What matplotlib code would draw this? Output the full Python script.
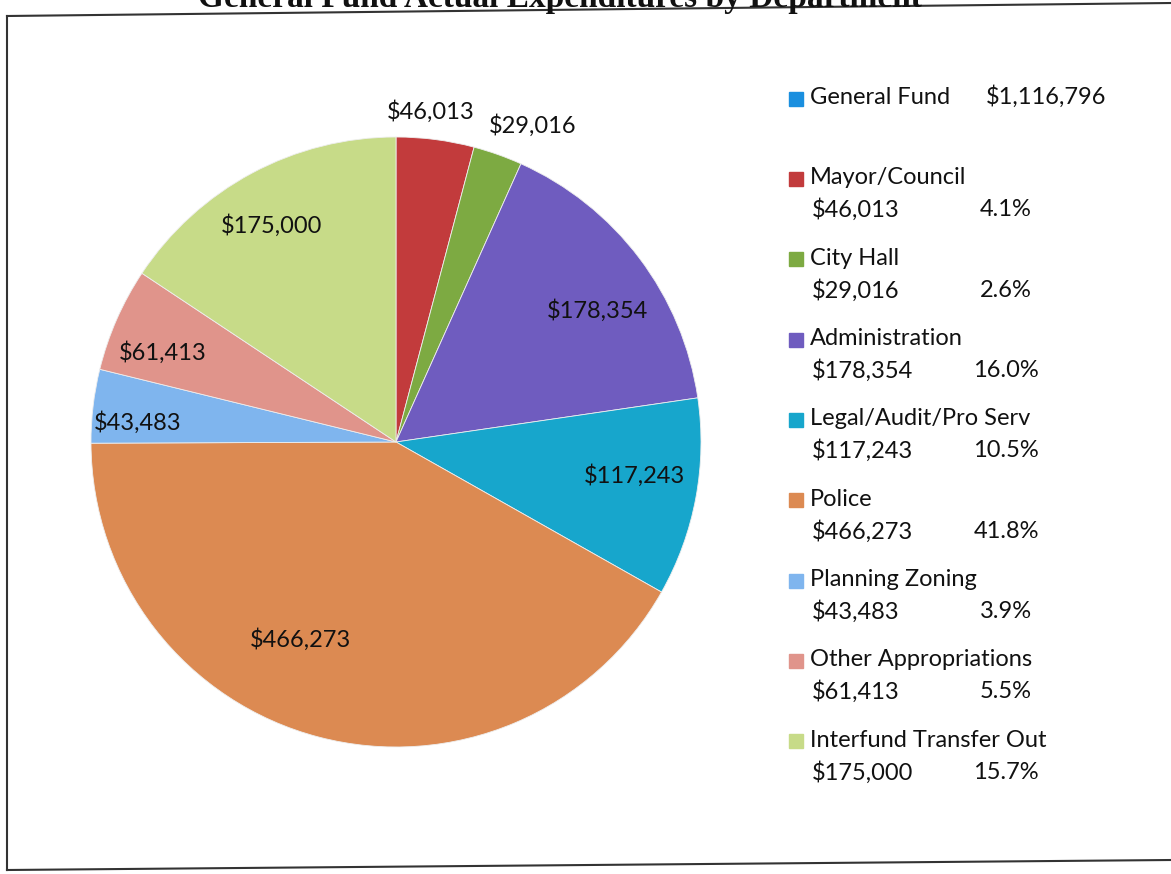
import matplotlib.pyplot as plt
from matplotlib.patches import Rectangle
from matplotlib.lines import Line2D
import numpy as np

title = 'General Fund Actual Expenditures by Department'
departments = ['Mayor/Council', 'City Hall', 'Administration', 'Legal/Audit/Pro Serv',
               'Police', 'Planning Zoning', 'Other Appropriations', 'Interfund Transfer Out']
amounts = [46013, 29016, 178354, 117243, 466273, 43483, 61413, 175000]
total_label = '$1,116,796'
colors = ['#C23B3C', '#7DAA42', '#6F5CBF', '#17A6CC', '#DC8A52', '#7FB5EE', '#E0948B', '#C7DB88']
total_color = '#1A8FDF'

W, H = 1171, 874
fig = plt.figure(figsize=(W / 100, H / 100), dpi=100)
plt.rcParams['font.family'] = ['Lato', 'DejaVu Sans']
fs = 17


def px(x, y):
    return x / W, 1 - y / H


# pie, placed so that its centre and radius match the scan
cx, cy, r = 396, 442, 305
ax = fig.add_axes([(cx - r) / W, 1 - (cy + r) / H, 2 * r / W, 2 * r / H])
wedges, _ = ax.pie(amounts, colors=colors, startangle=90, counterclock=False,
                   radius=1, wedgeprops=dict(linewidth=0.6, edgecolor='#eeeeee'))
ax.set_xlim(-1, 1)
ax.set_ylim(-1, 1)
ax.axis('off')

# data labels: radial distance and small angle nudge, like Excel's best fit
label_r = [1.09, 1.13, 0.79, 0.79, 0.72, 0.85, 0.82, 0.82]
label_nudge = [1.4, -3.9, -4.0, 2.5, -11.2, 2.4, 2.7, 1.7]
for w, amt, lr, nd in zip(wedges, amounts, label_r, label_nudge):
    ang = np.deg2rad((w.theta1 + w.theta2) / 2 + nd)
    ax.text(lr * np.cos(ang), lr * np.sin(ang), '${:,}'.format(amt),
            ha='center', va='center', fontsize=fs, color='#111111')

# legend drawn by hand
total = sum(amounts)
sq = 14
fig.patches.append(Rectangle(px(789, 99 + sq / 2), sq / W, sq / H, color=total_color,
                             transform=fig.transFigure, figure=fig))
fig.text(*px(810, 97), 'General Fund', ha='left', va='center', fontsize=fs, color='#111111')
fig.text(*px(986, 97), total_label, ha='left', va='center', fontsize=fs, color='#111111')
for i, (name, amt, col) in enumerate(zip(departments, amounts, colors)):
    y = 178 + i * 80.3
    fig.patches.append(Rectangle(px(789, y + 1 + sq / 2), sq / W, sq / H, color=col,
                                 transform=fig.transFigure, figure=fig))
    fig.text(*px(810, y), name, ha='left', va='center', fontsize=fs, color='#111111')
    fig.text(*px(812, y + 32), '${:,}'.format(amt), ha='left', va='center',
             fontsize=fs, color='#111111')
    fig.text(*px(1006, y + 32), '{:.1f}%'.format(amt / total * 100), ha='center',
             va='center', fontsize=fs, color='#111111')

# chart border (scan is slightly rotated)
for (x0, y0), (x1, y1) in [((7, 16), (1171, 3)), ((7, 16), (7, 870)), ((7, 870), (1171, 860))]:
    fig.add_artist(Line2D([x0 / W, x1 / W], [1 - y0 / H, 1 - y1 / H], color='#333333',
                          lw=1.5, transform=fig.transFigure))

# title is cut off at the top of the page
fig.text(*px(198, 7), title, ha='left', va='baseline', fontsize=24, fontweight='bold',
         family=['Liberation Serif', 'DejaVu Serif'], color='#111111')

fig.savefig('out.png', dpi=100)
